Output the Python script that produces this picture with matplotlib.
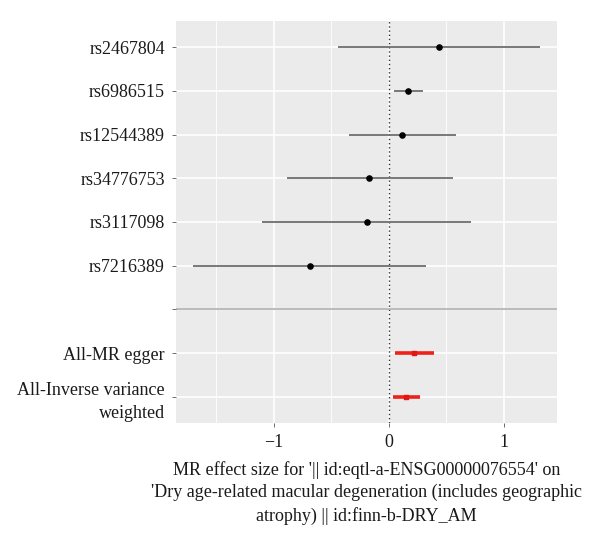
import numpy as np
import matplotlib.pyplot as plt

# MR forest plot data
snps = ['rs2467804', 'rs6986515', 'rs12544389', 'rs34776753', 'rs3117098', 'rs7216389']
snp_b = [0.435, 0.168, 0.116, -0.17, -0.195, -0.687]
snp_lo = [-0.44, 0.046, -0.344, -0.89, -1.10, -1.70]
snp_up = [1.31, 0.295, 0.58, 0.56, 0.71, 0.325]

methods = ['All-MR egger', 'All-Inverse variance\nweighted']
meth_b = [0.22, 0.15]
meth_lo = [0.05, 0.032]
meth_up = [0.39, 0.27]

labels = snps + [''] + methods
n = len(labels)
ypos = np.arange(n)
blank = len(snps)

plt.rcParams['font.family'] = ['Liberation Serif', 'DejaVu Serif']
fs = 13

fig = plt.figure(figsize=(6, 5.38), dpi=100)
ax = fig.add_axes([176/600, 1-423/538, 381/600, 402/538])
ax.set_facecolor('#ebebeb')
for s in ax.spines.values():
    s.set_visible(False)

ax.set_xlim(-1.85, 1.46)
ax.set_ylim(n - 1 + 0.6, -0.6)

# grid
for x in [-1.5, -0.5, 0.5]:
    ax.axvline(x, color='white', lw=0.6, zorder=0)
for x in [-1, 0, 1]:
    ax.axvline(x, color='white', lw=1.2, zorder=0)
for y in ypos:
    ax.axhline(y, color='white', lw=1.2, zorder=0)

ax.axvline(0, color='#333333', lw=1, ls=(0, (1, 2)), zorder=1)
ax.axhline(blank, color='#b0b0b0', lw=1.2, zorder=1)

sy = ypos[:len(snps)]
ax.hlines(sy, snp_lo, snp_up, color='#6e6e6e', lw=1.3, zorder=2)
ax.scatter(snp_b, sy, s=14, color='black', zorder=3)

my = ypos[len(snps) + 1:]
ax.hlines(my, meth_lo, meth_up, color='#f0201a', lw=2.6, zorder=2)
ax.scatter(meth_b, my, s=12, marker='s', color='#e01810', zorder=3)

ax.set_yticks(ypos)
ax.set_yticklabels(labels, fontsize=fs, color='#1a1a1a', linespacing=1.5)
ax.set_xticks([-1, 0, 1])
ax.set_xticklabels(['\u22121', '0', '1'], fontsize=fs, color='#1a1a1a')
ax.tick_params(axis='both', length=3, width=0.6, color='#555555', pad=5)

ax.set_xlabel("MR effect size for '|| id:eqtl-a-ENSG00000076554' on\n"
              "'Dry age-related macular degeneration (includes geographic\n"
              "atrophy) || id:finn-b-DRY_AM",
              fontsize=fs, color='#1a1a1a', linespacing=1.4, labelpad=7)

fig.savefig('out.png', dpi=100)
